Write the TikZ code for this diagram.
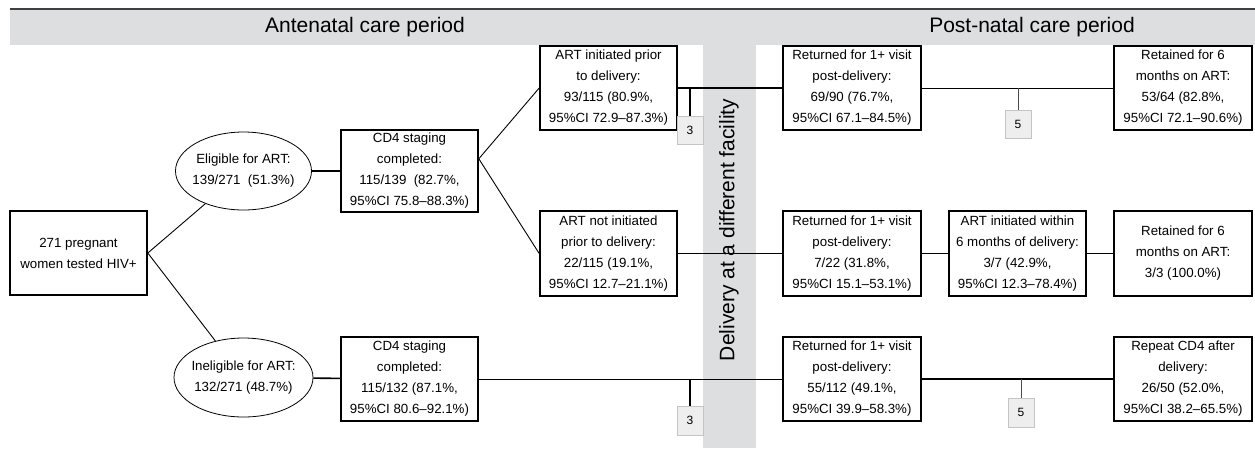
\documentclass[tikz,border=0pt]{standalone}
\usepackage{fontspec}
\setmainfont{Liberation Sans}
\usetikzlibrary{shapes.geometric}

\definecolor{bandgray}{RGB}{221,222,224}
\definecolor{taggray}{RGB}{238,238,238}
\definecolor{tagline}{RGB}{196,196,196}

\tikzset{
  box/.style={draw, line width=1.6pt, minimum width=137pt, minimum height=84pt,
    inner sep=0pt, align=center, font=\fontsize{13.3}{21}\selectfont},
  oval/.style={draw, ellipse, line width=0.8pt, minimum width=136pt, minimum height=78pt,
    inner xsep=-8pt, inner ysep=0pt, align=center, font=\fontsize{13.3}{21}\selectfont},
  tag/.style={draw=tagline, fill=taggray, line width=0.8pt, minimum width=26pt,
    minimum height=28pt, inner sep=0pt, font=\fontsize{12}{14}\selectfont},
  head/.style={font=\fontsize{21}{25}\selectfont},
  thin link/.style={line width=0.9pt},
  thick link/.style={line width=1.6pt},
}

\begin{document}
\begin{tikzpicture}[x=1pt,y=-1pt]
    \useasboundingbox (0,0) rectangle (1255,448);

	%% Background bands: periods on top, delivery column in the middle
	\fill[bandgray] (10,9) rectangle (1255,45);
	\fill[bandgray] (703,45) rectangle (756,448);
	\draw[line width=1.5pt, black!75] (10,9) -- (1255,9);
	\node[head] (ante) at (365,27) {Antenatal care period};
	\node[head] (post) at (1032,27) {Post-natal care period};
	\node[head, rotate=90] (dlv) at (729,230) {Delivery at a different facility};

	%% Antenatal care side
	\node[box] (women) at (78.5,253) {271 pregnant\\women tested HIV+};
	\node[oval] (elig) at (243.5,171) {Eligible for ART:\\139/271\ \ (51.3\%)};
	\node[oval, minimum width=139pt, minimum height=79pt] (inel) at (243.5,377.5) {Ineligible for ART:\\132/271 (48.7\%)};
	\node[box, minimum height=82pt] (cdA) at (409.5,171) {CD4 staging\\completed:\\115/139\ \ (82.7\%,\\95\%CI 75.8--88.3\%)};
	\node[box] (cdB) at (409.5,379) {CD4 staging\\completed:\\115/132 (87.1\%,\\95\%CI 80.6--92.1\%)};
	\node[box] (artA) at (608.5,88) {ART initiated prior\\to delivery:\\93/115 (80.9\%,\\95\%CI 72.9--87.3\%)};
	\node[box, minimum height=85pt] (artB) at (608.5,253.5) {ART not initiated\\prior to delivery:\\22/115 (19.1\%,\\95\%CI 12.7--21.1\%)};

	%% Post-natal care side
	\node[box, minimum width=138pt] (retA) at (852,88) {Returned for 1+ visit\\post-delivery:\\69/90 (76.7\%,\\95\%CI 67.1--84.5\%)};
	\node[box, minimum width=138pt, minimum height=85pt] (retB) at (852,253.5) {Returned for 1+ visit\\post-delivery:\\7/22 (31.8\%,\\95\%CI 15.1--53.1\%)};
	\node[box, minimum width=138pt] (retC) at (852,379) {Returned for 1+ visit\\post-delivery:\\55/112 (49.1\%,\\95\%CI 39.9--58.3\%)};
	\node[box, minimum height=85pt] (initB) at (1017.5,253.5) {ART initiated within\\6 months of delivery:\\3/7 (42.9\%,\\95\%CI 12.3--78.4\%)};
	\node[box, minimum width=138pt] (keepA) at (1183,88) {Retained for 6\\months on ART:\\53/64 (82.8\%,\\95\%CI 72.1--90.6\%)};
	\node[box, minimum width=138pt, minimum height=85pt] (keepB) at (1183,253.5) {Retained for 6\\months on ART:\\3/3 (100.0\%)};
	\node[box, minimum width=138pt] (cdC) at (1183,379) {Repeat CD4 after\\delivery:\\26/50 (52.0\%,\\95\%CI 38.2--65.5\%)};

	%% Lost to follow-up tags
	\node[tag] (threeA) at (690,130) {3};
	\node[tag, minimum height=29pt] (threeB) at (690,420.5) {3};
	\node[tag] (fiveA) at (1018,124.5) {5};
	\node[tag, minimum height=29pt] (fiveB) at (1021,412.5) {5};

	%% 線を描く
	\draw[thin link] (women.east) -- (elig);
	\draw[thin link] (women.east) -- (inel);
	\draw[thick link] (elig) -- (cdA);
	\draw[thick link] (inel) -- (cdB);
	\draw[thin link] (cdA.10) -- (artA.west);
	\draw[thin link] (cdA.10) -- (artB.west);

	\draw[thick link] (artA) -- (retA);
	\draw[thick link] (threeA |- artA.east) -- (threeA.north);
	\draw[thin link] (retA) -- (keepA);
	\draw[thin link, black!70] (fiveA |- retA.east) -- (fiveA.north);

	\draw[thick link] (artB.east) -- (retB.west |- artB.east);
	\draw[thick link] (retB) -- (initB);
	\draw[thick link] (initB) -- (keepB);

	\draw[thin link] (cdB) -- (retC);
	\draw[thick link] (threeB |- cdB.east) -- (threeB.north);
	\draw[thick link] (retC) -- (cdC);
	\draw[thin link, black!70] (fiveB |- retC.east) -- (fiveB.north);
\end{tikzpicture}
\end{document}
